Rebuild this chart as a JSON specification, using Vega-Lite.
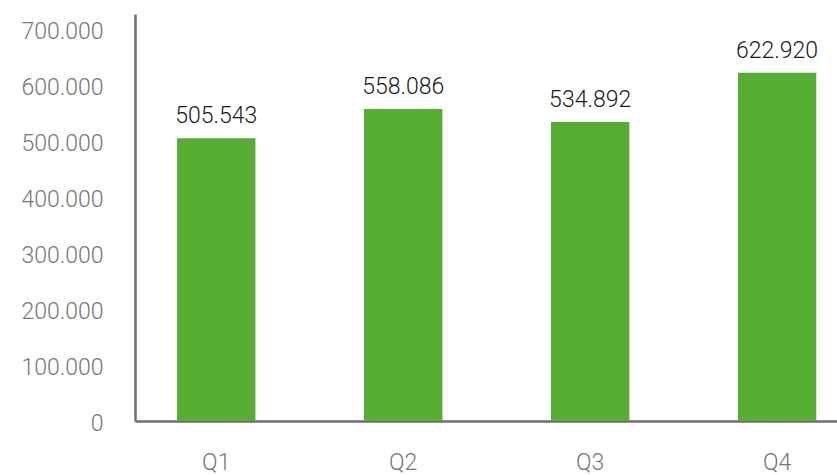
{
  "$schema": "https://vega.github.io/schema/vega-lite/v6.json",
  "autosize": "none",
  "width": 702,
  "height": 407,
  "padding": {"left": 135, "top": 14, "right": 0, "bottom": 54},
  "background": "white",
  "config": {
    "locale": {"number": {"decimal": ",", "thousands": ".", "grouping": [3], "currency": ["", " €"]}},
    "view": {"stroke": null},
    "font": "Roboto"
  },
  "data": {
    "values": [
      {"quarter": "Q1", "value": 505543},
      {"quarter": "Q2", "value": 558086},
      {"quarter": "Q3", "value": 534892},
      {"quarter": "Q4", "value": 622920}
    ]
  },
  "encoding": {
    "x": {
      "field": "quarter",
      "type": "nominal",
      "sort": null,
      "scale": {"paddingInner": 0.581, "paddingOuter": 0.168, "align": 0.67},
      "axis": {
        "title": null,
        "labelAngle": 0,
        "ticks": false,
        "labelPadding": 30,
        "labelFont": "Roboto",
        "labelFontWeight": 300,
        "labelFontSize": 23,
        "labelColor": "#777777",
        "domainColor": "#6e6e6e",
        "domainWidth": 2.5,
        "grid": false
      }
    },
    "y": {
      "field": "value",
      "type": "quantitative",
      "scale": {"domain": [0, 728000], "nice": false},
      "axis": {
        "title": null,
        "values": [0, 100000, 200000, 300000, 400000, 500000, 600000, 700000],
        "format": ",d",
        "ticks": false,
        "grid": false,
        "labelPadding": 32,
        "labelFont": "Roboto",
        "labelFontWeight": 300,
        "labelFontSize": 23,
        "labelColor": "#777777",
        "labelBaseline": "middle",
        "labelOffset": 2,
        "domainColor": "#6e6e6e",
        "domainWidth": 2.5
      }
    }
  },
  "layer": [
    {
      "mark": {"type": "bar", "color": "#57ad32"}
    },
    {
      "mark": {"type": "text", "baseline": "bottom", "dy": -10, "font": "Roboto", "fontWeight": 300, "fontSize": 23, "color": "#1a1a1a"},
      "encoding": {
        "text": {"field": "value", "type": "quantitative", "format": ",d"}
      }
    }
  ]
}
